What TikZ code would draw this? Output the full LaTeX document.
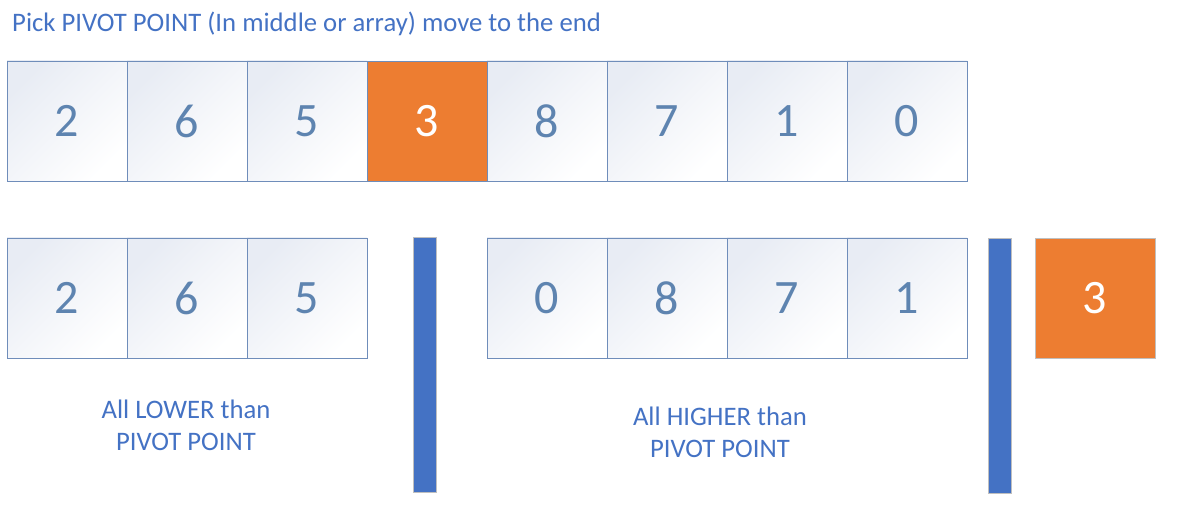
\documentclass[tikz,border=0pt]{standalone}
\usepackage{fontspec}
\setmainfont{Carlito}
\definecolor{txtblue}{HTML}{4472C4}
\definecolor{numblue}{HTML}{5E84B0}
\definecolor{cellborder}{HTML}{6F8DBA}
\definecolor{cellshade}{HTML}{E8ECF4}
\definecolor{pivot}{HTML}{ED7D31}
\definecolor{barblue}{HTML}{4472C4}
\definecolor{edgegray}{HTML}{BFBFBF}
\begin{document}
\begin{tikzpicture}[x=1pt,y=-1pt,
  cell/.style={rectangle, inner sep=0pt, minimum width=120pt, minimum height=120pt,
    draw=cellborder, line width=0.8pt, top color=cellshade, middle color=white, bottom color=white, shading angle=45,
    text=numblue, font=\fontsize{48}{52}\selectfont},
  pivotcell/.style={rectangle, inner sep=0pt, minimum width=120pt, minimum height=120pt,
    fill=pivot, draw=cellborder, line width=0.8pt, text=white, font=\fontsize{48}{52}\selectfont},
  pivotbox/.style={rectangle, inner sep=0pt, minimum width=120pt, minimum height=120pt,
    fill=pivot, draw=edgegray, line width=0.8pt, text=white, font=\fontsize{48}{52}\selectfont},
  bar/.style={rectangle, inner sep=0pt, minimum width=23pt, fill=barblue, draw=edgegray, line width=0.8pt},
  lbl/.style={text=txtblue, font=\fontsize{26.7}{32}\selectfont, align=center}]
\useasboundingbox (0,0) rectangle (1199,518);
\node[text=txtblue, font=\fontsize{26.7}{30}\selectfont, anchor=base west, inner sep=0pt] (title) at (12,31.5) {Pick PIVOT POINT (In middle or array) move to the end};
% top row
\node[cell] (t1) at (67,121) {2};
\node[cell] (t2) at (187,121) {6};
\node[cell] (t3) at (307,121) {5};
\node[pivotcell] (t4) at (427,121) {3};
\node[cell] (t5) at (547,121) {8};
\node[cell] (t6) at (667,121) {7};
\node[cell] (t7) at (787,121) {1};
\node[cell] (t8) at (907,121) {0};
% bottom left
\node[cell] (b1) at (67,298) {2};
\node[cell] (b2) at (187,298) {6};
\node[cell] (b3) at (307,298) {5};
\node[bar, minimum height=255pt] (bar1) at (424.5,364.5) {};
% bottom right
\node[cell] (b4) at (547,298) {0};
\node[cell] (b5) at (667,298) {8};
\node[cell] (b6) at (787,298) {7};
\node[cell] (b7) at (907,298) {1};
\node[bar, minimum height=255pt] (bar2) at (1000,365.5) {};
\node[pivotbox] (piv) at (1095,298) {3};
% labels
\node[lbl] (lowlbl) at (186,425) {All LOWER than\\PIVOT POINT};
\node[lbl] (highlbl) at (720,432) {All HIGHER than\\PIVOT POINT};
\end{tikzpicture}
\end{document}
